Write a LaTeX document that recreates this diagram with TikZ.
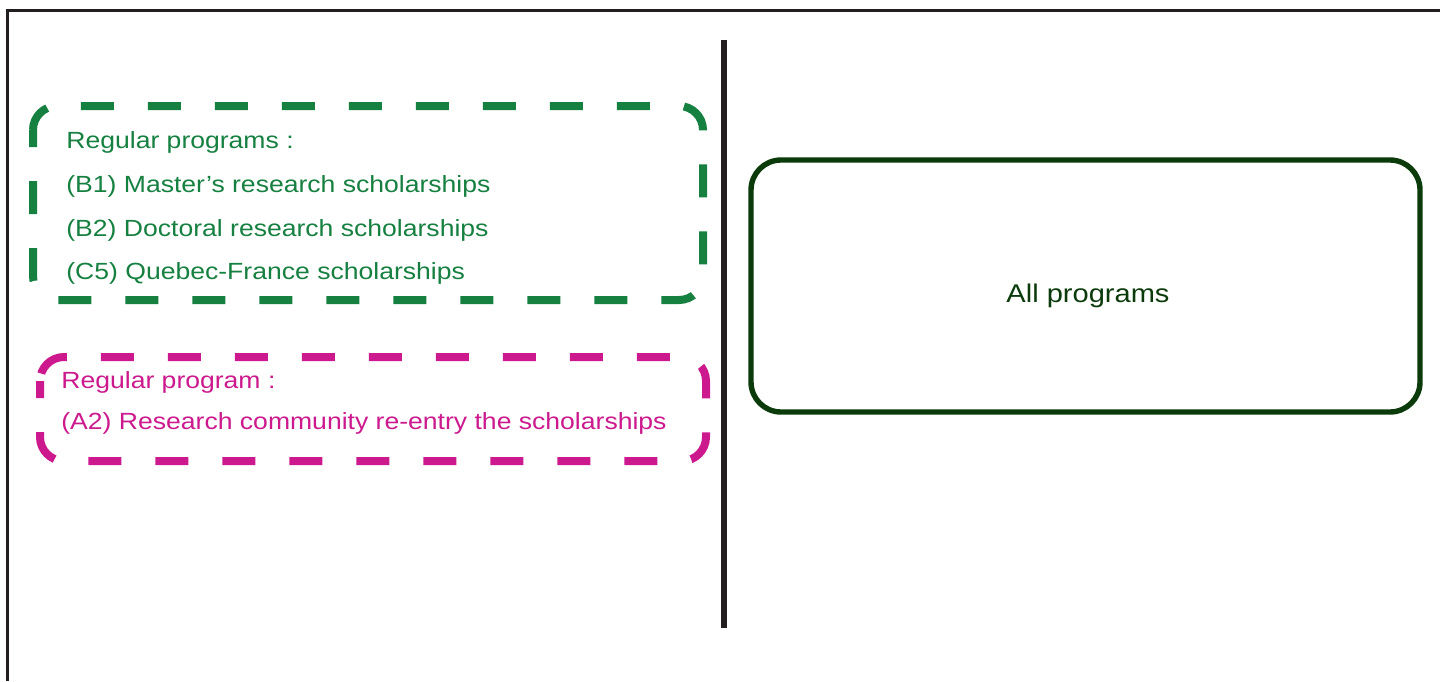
\documentclass[tikz,border=0pt]{standalone}
\usepackage{fontspec}
\setmainfont{Liberation Sans}
\newfontfamily\widesans[FakeStretch=1.135]{Liberation Sans}
\usetikzlibrary{calc}
\definecolor{frameink}{HTML}{231F20}
\definecolor{regulargreen}{HTML}{168040}
\definecolor{reentrypink}{HTML}{CC1A8E}
\definecolor{allgreen}{HTML}{0B3A0B}
\tikzset{
	dashbox/.style={line width=4pt, dash pattern=on 16.5pt off 17pt, rounded corners=12pt},
	listtext/.style={anchor=base west, inner sep=0pt, font=\widesans\fontsize{11.7}{14}\selectfont}
}

\begin{document}
\begin{tikzpicture}[x=0.5pt, y=-0.5pt]
		%%%%% START %%%%%
		\useasboundingbox (0, 0) rectangle (1440, 681);
		
		% outer frame (cut at right and bottom)
		\draw[frameink, line width=1.5pt] (7, 681) -- (7, 10) -- (1440, 10);
		
		% divider
		\draw[frameink, line width=2.6pt] (724, 40) -- (724, 628);
		
		% green group
		\draw[dashbox, regulargreen, dash phase=8pt] (33, 106) rectangle (703, 300);
		\node[listtext, regulargreen] (reg) at (66, 148) {Regular programs :};
		\node[listtext, regulargreen] (bone) at (66, 192) {(B1) Master’s research scholarships};
		\node[listtext, regulargreen] (btwo) at (66, 236) {(B2) Doctoral research scholarships};
		\node[listtext, regulargreen] (cfive) at (66, 279) {(C5) Quebec-France scholarships};
		
		% pink group
		\draw[dashbox, reentrypink, dash phase=8pt] (40, 357) rectangle (706, 461);
		\node[listtext, reentrypink] (regone) at (61, 388) {Regular program :};
		\node[listtext, reentrypink] (atwo) at (61, 429) {(A2) Research community re-entry the scholarships};
		
		% right box
		\draw[allgreen, line width=2.7pt, rounded corners=15pt] (751, 160) rectangle (1420, 412);
		\node[allgreen, font=\widesans\fontsize{12.8}{15}\selectfont] (all) at (1088, 296) {All programs};
		%%%%% END %%%%%
	\end{tikzpicture}
\end{document}
